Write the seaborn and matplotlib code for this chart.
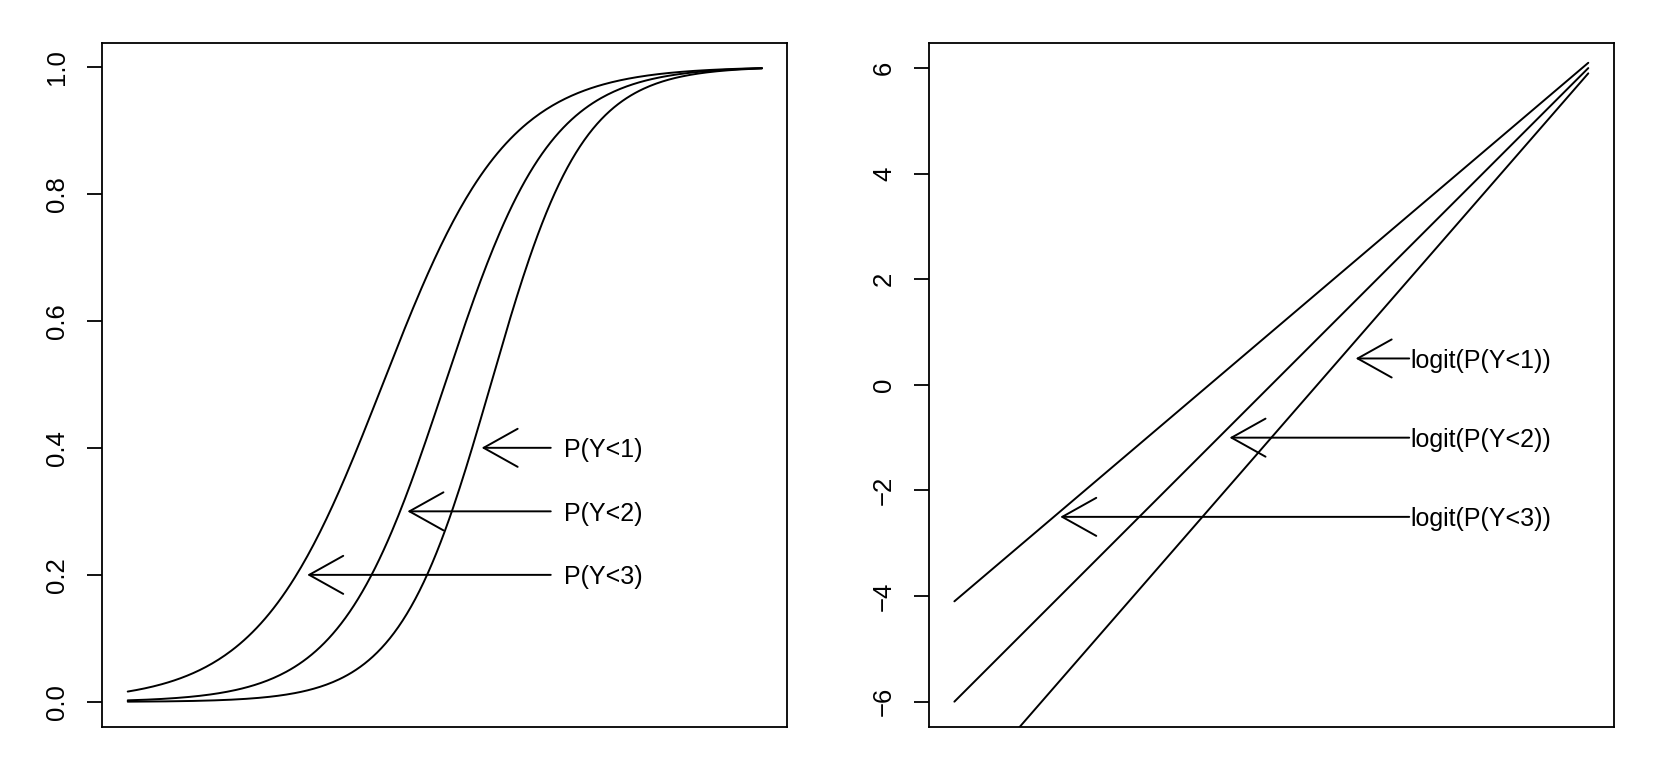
import numpy as np
import pandas as pd
import matplotlib
matplotlib.use("Agg")
import matplotlib.pyplot as plt
import seaborn as sns

# ---- data ----
series = ["1", "2", "3"]
intercepts = [-4.1, -6.0, -7.9]      # logit at x = 0
end_values = [6.1, 6.0, 5.9]         # logit at x = 1

left_labels = ["P(Y<1)", "P(Y<2)", "P(Y<3)"]
left_arrow_y = [0.4, 0.3, 0.2]
left_arrow_tip = [0.558, 0.441, 0.283]
left_arrow_tail = 0.667
left_label_x = 0.688

right_labels = ["logit(P(Y<1))", "logit(P(Y<2))", "logit(P(Y<3))"]
right_arrow_y = [0.5, -1.0, -2.5]
right_arrow_tip = [0.633, 0.434, 0.167]
right_arrow_tail = 0.7175
right_label_x = 0.719

left_ticks = [0.0, 0.2, 0.4, 0.6, 0.8, 1.0]
left_ticklabels = ["0.0", "0.2", "0.4", "0.6", "0.8", "1.0"]
right_ticks = [-6, -4, -2, 0, 2, 4, 6]
right_ticklabels = ["\u22126", "\u22124", "\u22122", "0", "2", "4", "6"]

# ---- build frame ----
xs = np.linspace(0, 1, 301)
rows = []
for s, a, e in zip(series, intercepts, end_values):
    lg = a + (e - a) * xs
    rows.append(pd.DataFrame({"x": xs, "logit": lg,
                              "p": 1 / (1 + np.exp(-lg)), "series": s}))
df = pd.concat(rows, ignore_index=True)

sns.set_theme(style="white")
plt.rcParams["font.family"] = ["Liberation Sans", "DejaVu Sans"]
plt.rcParams["text.color"] = "black"
plt.rcParams["axes.edgecolor"] = "black"
plt.rcParams["axes.linewidth"] = 1.3

fig = plt.figure(figsize=(16.67, 7.84), dpi=100)
ax1 = fig.add_axes([0.0614, 0.0727, 0.4109, 0.8728])
ax2 = fig.add_axes([0.5573, 0.0727, 0.4107, 0.8728])

pal = {s: "black" for s in series}
sns.lineplot(data=df, x="x", y="p", hue="series", palette=pal, ax=ax1,
             legend=False, linewidth=1.4, estimator=None)
sns.lineplot(data=df, x="x", y="logit", hue="series", palette=pal, ax=ax2,
             legend=False, linewidth=1.4, estimator=None)

ax1.set_xlim(-0.04, 1.04)
ax2.set_xlim(-0.04, 1.04)
ax1.set_ylim(-0.0395, 1.0377)
ax2.set_ylim(-6.48, 6.48)

arrowprops = dict(arrowstyle="->, head_length=24.5, head_width=13.7",
                  mutation_scale=1, color="black", lw=1.4,
                  shrinkA=0, shrinkB=0)

for lab, y, tip in zip(left_labels, left_arrow_y, left_arrow_tip):
    ax1.annotate("", xy=(tip, y), xytext=(left_arrow_tail, y),
                 arrowprops=arrowprops)
    ax1.text(left_label_x, y, lab, ha="left", va="center_baseline",
             fontsize=18, color="black")

for lab, y, tip in zip(right_labels, right_arrow_y, right_arrow_tip):
    ax2.annotate("", xy=(tip, y), xytext=(right_arrow_tail, y),
                 arrowprops=arrowprops)
    ax2.text(right_label_x, y, lab, ha="left", va="center_baseline",
             fontsize=18, color="black")

for ax, t, tl in [(ax1, left_ticks, left_ticklabels),
                  (ax2, right_ticks, right_ticklabels)]:
    ax.set_xticks([])
    ax.set_yticks(t)
    ax.set_yticklabels(tl, rotation=90, va="center", fontsize=18.5)
    ax.tick_params(axis="y", left=True, length=10.8, width=1.3,
                   pad=13, color="black", labelcolor="black")
    ax.set_xlabel("")
    ax.set_ylabel("")
    for sp in ax.spines.values():
        sp.set_visible(True)
        sp.set_color("black")
        sp.set_linewidth(1.3)

fig.savefig("out.png", dpi=100, facecolor="white")
